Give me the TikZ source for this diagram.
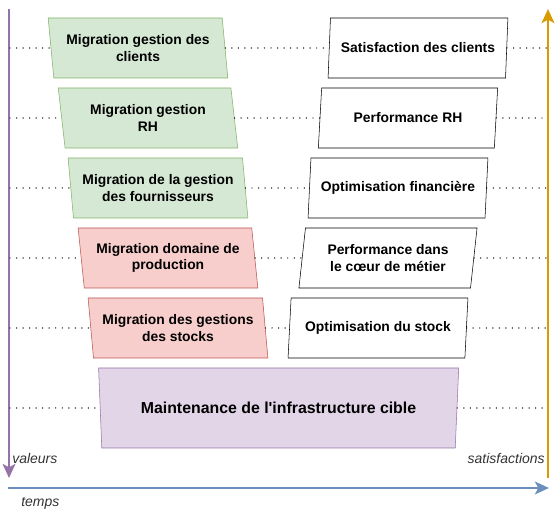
\documentclass[tikz,border=0pt]{standalone}
\usepackage{fontspec}
\setmainfont{Liberation Sans}
\usetikzlibrary{shapes.geometric,arrows.meta}
\definecolor{greenfill}{HTML}{D5E8D4}
\definecolor{greenline}{HTML}{82B366}
\definecolor{redfill}{HTML}{F8CECC}
\definecolor{redline}{HTML}{B85450}
\definecolor{mauvefill}{HTML}{E1D5E7}
\definecolor{mauveline}{HTML}{9673A6}
\definecolor{orangeline}{HTML}{D79B00}
\definecolor{blueline}{HTML}{6C8EBF}
\definecolor{labelgray}{HTML}{333333}
\tikzset{
  slantbox/.style={trapezium, trapezium stretches=true, minimum width=135pt,
    minimum height=45pt, inner sep=1pt, align=center, font=\bfseries\fontsize{10.4}{12.4}\selectfont},
  leftbox/.style={slantbox, trapezium left angle=99.46, trapezium right angle=80.54},
  rightbox/.style={slantbox, draw=black, fill=white, trapezium left angle=80.54, trapezium right angle=99.46},
  greenbox/.style={leftbox, draw=greenline, fill=greenfill},
  redbox/.style={leftbox, draw=redline, fill=redfill},
  dots/.style={line width=1.1pt, dash pattern=on 0pt off 4.9pt, line cap=round},
  axis/.style={line width=2.2pt, -{Stealth[length=10.5pt, width=9.5pt, inset=2.5pt]}},
  axislabel/.style={font=\itshape\fontsize{10.5}{12}\selectfont, text=labelgray, inner sep=0pt}
}
\begin{document}
\begin{tikzpicture}[x=0.75pt, y=-0.75pt]
\useasboundingbox (0,0) rectangle (558,513);

% axes
\coordinate (vtop) at (9,9);
\coordinate (vbot) at (9,478);
\coordinate (stop) at (548,9);
\coordinate (sbot) at (548,478);
\coordinate (tleft) at (8,488);
\coordinate (tright) at (549,488);
\draw[axis, mauveline] (vtop) -- (vbot);
\draw[axis, orangeline] (sbot) -- (stop);
\draw[axis, blueline] (tleft) -- (tright);
\node[axislabel, anchor=west] (valeurs) at (12,458) {valeurs};
\node[axislabel, anchor=east] (satisf) at (545,458) {satisfactions};
\node[axislabel, anchor=west] (temps) at (21,503) {temps};

% migrations
\node[greenbox] (m1) at (138,48) {Migration gestion des\\clients};
\node[greenbox] (m2) at (148,118) {Migration gestion\\RH};
\node[greenbox] (m3) at (158,188) {Migration de la gestion\\des fournisseurs};
\node[redbox] (m4) at (168,258) {Migration domaine de\\production};
\node[redbox] (m5) at (178,328) {Migration des gestions\\des stocks};

% satisfactions
\node[rightbox] (s1) at (418,48) {Satisfaction des clients};
\node[rightbox] (s2) at (408,118) {Performance RH};
\node[rightbox] (s3) at (398,188) {Optimisation financi\`ere};
\node[rightbox] (s4) at (388,258) {Performance dans\\le c\oe ur de m\'etier};
\node[rightbox] (s5) at (378,328) {Optimisation du stock};

% infrastructure
\node[trapezium, trapezium stretches=true, trapezium left angle=97.1, trapezium right angle=97.8,
  minimum width=270.75pt, minimum height=60pt, draw=mauveline, fill=mauvefill,
  font=\bfseries\fontsize{11.9}{14}\selectfont] (infra) at (278.5,408) {Maintenance de l\textquotesingle infrastructure cible};

% dotted guides
\coordinate (a1) at (10,48);  \coordinate (b1) at (548,48);
\coordinate (a2) at (10,118); \coordinate (b2) at (548,118);
\coordinate (a3) at (10,188); \coordinate (b3) at (548,188);
\coordinate (a4) at (10,258); \coordinate (b4) at (548,258);
\coordinate (a5) at (10,328); \coordinate (b5) at (548,328);
\coordinate (a6) at (10,408); \coordinate (b6) at (548,408);
\foreach \i in {1,...,5}{
  \draw[dots] (a\i) -- (m\i.left side);
  \draw[dots] (m\i.right side) -- (s\i.left side);
  \draw[dots] (s\i.right side) -- (b\i);
}
\draw[dots] (a6) -- (infra.left side);
\draw[dots] (infra.right side) -- (b6);
\end{tikzpicture}
\end{document}
